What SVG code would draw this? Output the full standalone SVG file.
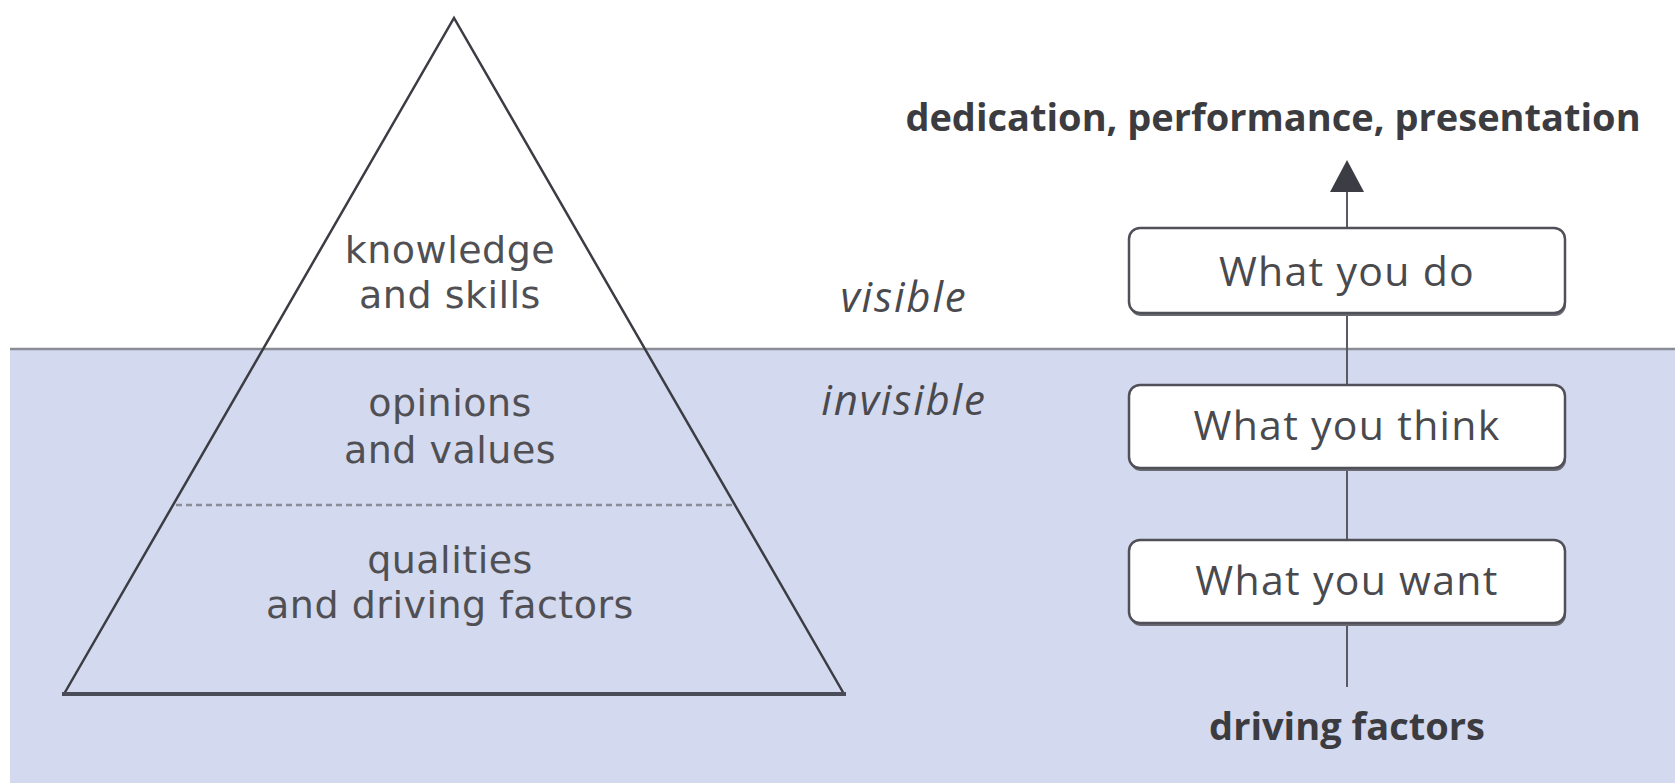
<svg xmlns="http://www.w3.org/2000/svg" width="1675" height="783" viewBox="0 0 1675 783">
<defs>
<style>
.t{font-family:"Open Sans","Liberation Sans",sans-serif;fill:#4a4a4e;text-anchor:middle}
.p{font-family:"DejaVu Sans","Open Sans",sans-serif;font-size:38px;letter-spacing:0.5px;fill:#505054}
.i{font-size:42px;font-style:italic;letter-spacing:1.8px}
.b{font-size:38px;font-weight:bold;fill:#3c3c40}
.bx{fill:#ffffff;stroke:#505058;stroke-width:2.5}
.sh{fill:#6a6a72}
.bt{font-size:41px;letter-spacing:1.3px}
</style>
</defs>
<rect x="0" y="0" width="1675" height="783" fill="#ffffff"/>
<rect id="water" x="10" y="349" width="1665" height="434" fill="#d3d9ee"/>
<line x1="10" y1="349" x2="1675" y2="349" stroke="#8a8d96" stroke-width="2.5"/>

<g id="pyramid">
<polyline points="64,694 454,18 844,694" fill="none" stroke="#3c3c44" stroke-width="2.5"/>
<line x1="62" y1="694" x2="846" y2="694" stroke="#4a4d58" stroke-width="4"/>
<line x1="176" y1="505" x2="734" y2="505" stroke="#8a8d98" stroke-width="2.5" stroke-dasharray="6,4"/>
<text class="t p" x="450" y="263"><tspan x="450" y="263">knowledge</tspan><tspan x="450" y="308">and skills</tspan></text>
<text class="t p" x="450" y="416"><tspan x="450" y="416">opinions</tspan><tspan x="450" y="463">and values</tspan></text>
<text class="t p" x="450" y="573"><tspan x="450" y="573">qualities</tspan><tspan x="450" y="618">and driving factors</tspan></text>
</g>

<g id="labels">
<text class="t i" x="904" y="312">visible</text>
<text class="t i" x="904" y="415">invisible</text>
<text class="t b" x="1273" y="131">dedication, performance, presentation</text>
<text class="t b" x="1347" y="740">driving factors</text>
</g>

<g id="connectors">
<line x1="1347" y1="687" x2="1347" y2="190" stroke="#5a5a62" stroke-width="2"/>
<polygon points="1347,160 1330,192 1364,192" fill="#3c3c44"/>
</g>

<g id="box-do">
<rect class="sh" x="1130" y="231" width="436" height="85" rx="11"/>
<rect class="bx" x="1129" y="228" width="436" height="85" rx="11"/>
<text class="t bt" x="1347" y="286">What you do</text>
</g>
<g id="box-think">
<rect class="sh" x="1130" y="388" width="436" height="83" rx="11"/>
<rect class="bx" x="1129" y="385" width="436" height="83" rx="11"/>
<text class="t bt" x="1347" y="440">What you think</text>
</g>
<g id="box-want">
<rect class="sh" x="1130" y="543" width="436" height="83" rx="11"/>
<rect class="bx" x="1129" y="540" width="436" height="83" rx="11"/>
<text class="t bt" x="1347" y="595">What you want</text>
</g>
</svg>
